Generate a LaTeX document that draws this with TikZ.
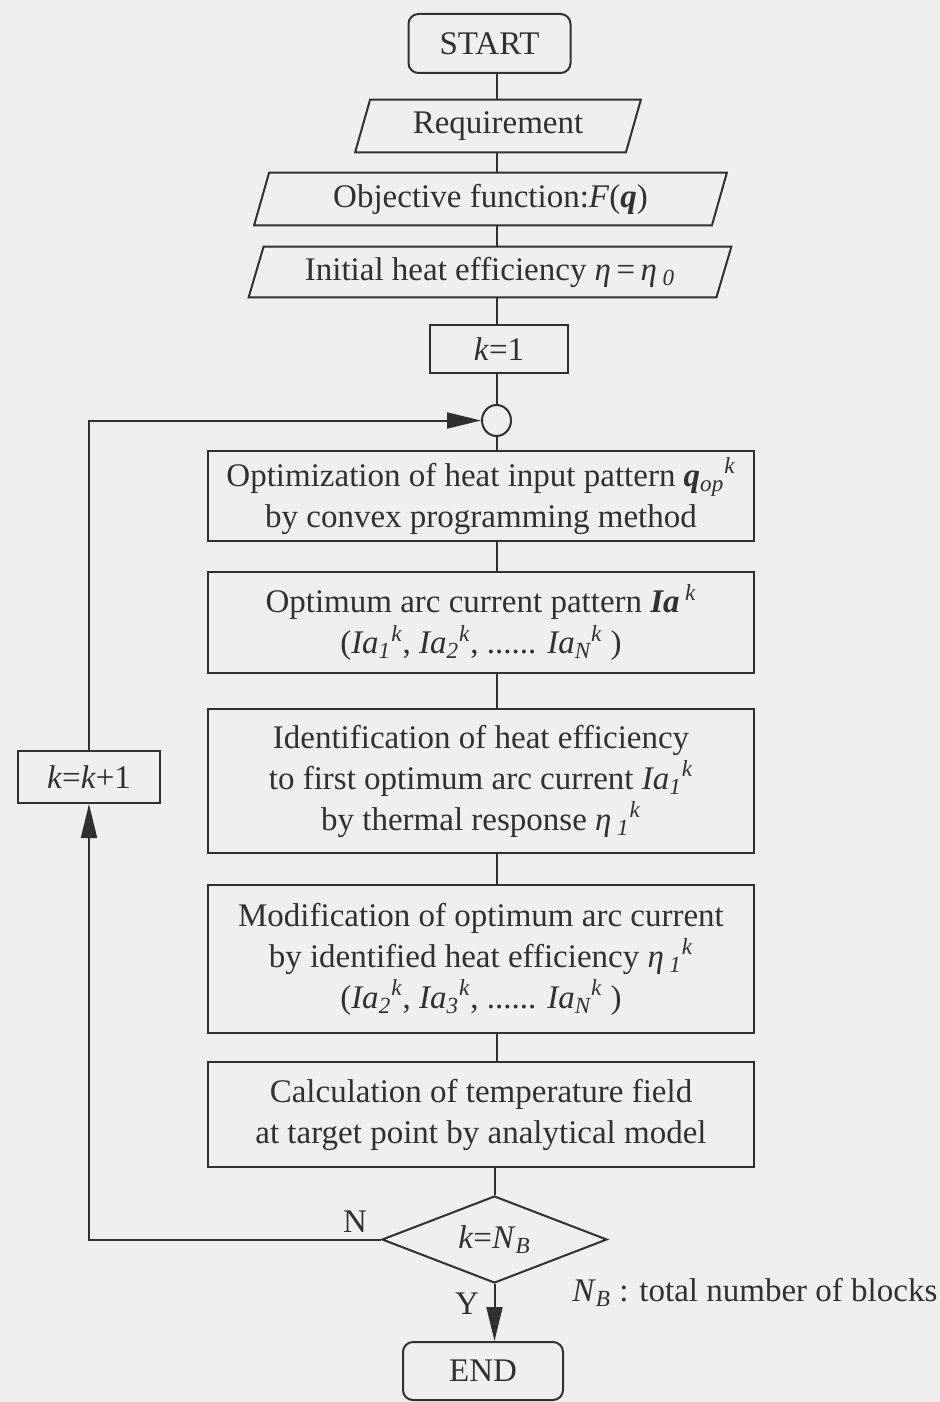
\documentclass[tikz,border=0pt]{standalone}
\usepackage{fontspec}
\setmainfont{Liberation Serif}
\usetikzlibrary{shapes.geometric,arrows.meta,calc}
\definecolor{paper}{RGB}{239,239,239}
\definecolor{ink}{RGB}{48,48,48}
\newcommand\tsup[1]{\textsuperscript{\itshape #1}}
\newcommand\tsub[1]{\textsubscript{\itshape #1}}
\begin{document}
\begin{tikzpicture}[x=0.5pt,y=-0.5pt,
  every node/.style={font=\fontsize{16.5}{20.5}\selectfont, text=ink, inner sep=0pt},
  line/.style={draw=ink, line width=1pt},
  box/.style={line, rectangle, align=center},
  term/.style={box, rounded corners=5pt},
  io/.style={rectangle, align=center},
  arr/.style={line, -{Triangle[length=17pt,width=8pt]}},
]
\fill[paper] (0,0) rectangle (940,1402);
\useasboundingbox (0,0) rectangle (940,1402);

% terminals, inputs and process steps
\node[term, minimum width=81pt, minimum height=29.5pt] (start) at (489.5,43.5) {START};
\node[io, minimum width=135pt, minimum height=26pt] (req) at (498,126) {Requirement};
\node[io, minimum width=228.5pt, minimum height=26pt] (obj) at (490.5,199) {Objective function:\textit{F}(\textbf{\textit{q}})};
\node[io, minimum width=233.5pt, minimum height=25pt] (ini) at (490,272) {Initial heat efficiency \textit{η}\,=\,\textit{η}\,\tsub{0}};
\foreach \n in {req,obj,ini}
  \draw[line] ($(\n.north west)+(7.5,0)$) -- ($(\n.north east)+(7.5,0)$)
           -- ($(\n.south east)+(-7.5,0)$) -- ($(\n.south west)+(-7.5,0)$) -- cycle;
\node[box, minimum width=69pt, minimum height=24pt] (k1) at (499,349) {\textit{k}=1};
\node[line, ellipse, minimum width=14.5pt, minimum height=15.5pt] (circ) at (496.5,420.5) {};
\node[box, minimum width=273pt, minimum height=45pt] (b1) at (481,496)
  {Optimization of heat input pattern \textbf{\textit{q}}\tsub{op}\tsup{k}\\ by convex programming method};
\node[box, minimum width=273pt, minimum height=50.5pt] (b2) at (481,622.5)
  {Optimum arc current pattern \textbf{\textit{Ia}}\,\tsup{k}\\ (\textit{Ia}\tsub{1}\tsup{k}, \textit{Ia}\tsub{2}\tsup{k}, ...... \textit{Ia}\tsub{N}\tsup{k} )};
\node[box, minimum width=273pt, minimum height=72pt] (b3) at (481,781)
  {Identification of heat efficiency\\ to first optimum arc current \textit{Ia}\tsub{1}\tsup{k}\\ by thermal response \textit{η}\,\tsub{1}\tsup{k}};
\node[box, minimum width=273pt, minimum height=74pt] (b4) at (481,959)
  {Modification of optimum arc current\\ by identified heat efficiency \textit{η}\,\tsub{1}\tsup{k}\\ (\textit{Ia}\tsub{2}\tsup{k}, \textit{Ia}\tsub{3}\tsup{k}, ...... \textit{Ia}\tsub{N}\tsup{k} )};
\node[box, minimum width=273pt, minimum height=52.5pt] (b5) at (481,1114.5)
  {Calculation of temperature field\\ at target point by analytical model};
\node[line, diamond, aspect=2.5, minimum width=112.5pt, minimum height=43.5pt] (dia) at (494.5,1239.5) {\textit{k}=\textit{N}\tsub{B}};
\node[box, minimum width=71pt, minimum height=26pt] (kk) at (89,777) {\textit{k}=\textit{k}+1};
\node[term, minimum width=80pt, minimum height=29pt] (end) at (483,1371) {END};

% branch labels and note
\node (nlab) at (355,1222) {N};
\node (ylab) at (467,1304) {Y};
\node[anchor=west] (note) at (572,1292) {\textit{N}\tsub{B} : total number of blocks};

% main flow
\draw[line] (start.south -| circ) -- (req.north -| circ);
\draw[line] (req.south -| circ) -- (obj.north -| circ);
\draw[line] (obj.south -| circ) -- (ini.north -| circ);
\draw[line] (ini.south -| circ) -- (k1.north -| circ);
\draw[line] (k1.south -| circ) -- (circ.north);
\draw[line] (circ.south) -- (b1.north -| circ);
\draw[line] (b1.south -| circ) -- (b2.north -| circ);
\draw[line] (b2.south -| circ) -- (b3.north -| circ);
\draw[line] (b3.south -| circ) -- (b4.north -| circ);
\draw[line] (b4.south -| circ) -- (b5.north -| circ);
\draw[line] (b5.south -| dia) -- (dia.north);
\draw[arr] (dia.south) -- (end.north -| dia);

% loop back
\draw[arr] (dia.west) -| (kk.south);
\draw[arr] (kk.north) |- (circ.west);
\end{tikzpicture}
\end{document}
